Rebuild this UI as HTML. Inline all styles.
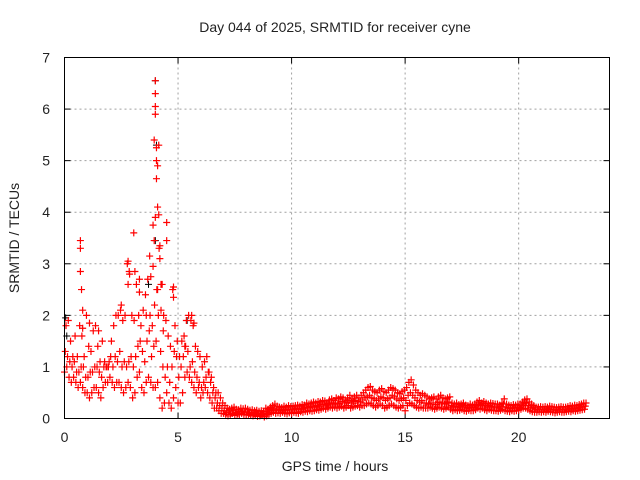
<!DOCTYPE html>
<html><head><meta charset="utf-8"><style>
body{margin:0;background:#fff}
svg{display:block;font-family:"Liberation Sans",sans-serif}
</style></head><body>
<svg id="chart" width="640" height="480">
<text x="335" y="32" text-anchor="middle" font-size="14" fill="#222">Day 044 of 2025, SRMTID for receiver cyne</text>
<text x="335" y="471" text-anchor="middle" font-size="14" fill="#222">GPS time / hours</text>
<text transform="translate(19,238) rotate(-90)" text-anchor="middle" font-size="14" fill="#222">SRMTID / TECUs</text>
<g id="grid"></g>
<g id="ticks"></g>
<g id="marks"></g>
<rect x="64.5" y="57.5" width="545" height="361" fill="none" stroke="#000" stroke-width="1"/>
</svg>
<script>
const xTicks=[0,5,10,15,20];
const yTicks=[0,1,2,3,4,5,6,7];
const tStart=0, tStep=0.1;
const s1=[0.9,1.0,0.8,0.7,0.8,0.7,0.6,0.7,0.6,0.5, 0.5,0.4,0.5,0.6,0.6,0.5,0.4,0.6,0.7,0.7, 0.8,0.7,0.6,0.7,0.7,0.6,0.5,0.6,0.7,0.6, 0.4,0.5,0.8,0.9,0.6,0.5,0.7,0.8,0.7,0.6, 0.6,0.7,0.4,0.2,0.3,0.5,0.3,0.2,0.4,0.6, 0.3,0.3,0.5,0.8,0.9,0.8,0.7,0.6,0.5,0.6, 0.4,0.5,0.6,0.5,0.4,0.3,0.2,0.2,0.15,0.1, 0.1,0.08,0.05,0.08,0.1,0.06,0.08,0.07,0.1,0.08, 0.07,0.08,0.06,0.05,0.07,0.04,0.05,0.06,0.03,0.05, 0.08,0.1,0.12,0.1,0.11,0.1,0.12,0.1,0.09,0.11, 0.1,0.12,0.11,0.1,0.13,0.12,0.14,0.13,0.15,0.14, 0.15,0.17,0.16,0.18,0.2,0.18,0.2,0.22,0.2,0.22, 0.2,0.22,0.24,0.2,0.22,0.25,0.2,0.22,0.24,0.25, 0.22,0.25,0.25,0.28,0.3,0.28,0.25,0.22,0.25,0.28, 0.25,0.2,0.22,0.25,0.28,0.25,0.22,0.2,0.22,0.25, 0.15,0.25,0.3,0.28,0.25,0.22,0.2,0.22,0.2,0.2, 0.2,0.22,0.2,0.18,0.2,0.22,0.2,0.18,0.2,0.22, 0.18,0.15,0.17,0.15,0.16,0.18,0.15,0.14,0.16,0.15, 0.15,0.17,0.2,0.18,0.2,0.17,0.15,0.18,0.16,0.15, 0.15,0.14,0.16,0.18,0.15,0.14,0.13,0.15,0.14,0.15, 0.16,0.18,0.2,0.2,0.18,0.15,0.13,0.12,0.12,0.13, 0.12,0.13,0.12,0.14,0.13,0.12,0.11,0.12,0.13,0.12, 0.12,0.13,0.14,0.13,0.15,0.14,0.15,0.16,0.17,0.18];
const s2=[1.3,1.2,1.1,1.0,1.1,0.9,0.9,1.0,1.0,0.8, 0.8,0.9,0.9,1.0,1.0,0.9,0.8,1.0,1.0,1.0, 1.2,1.0,1.2,1.1,1.3,1.0,1.1,1.0,1.1,1.2, 1.0,1.2,1.4,1.5,1.3,1.1,1.5,1.7,1.2,1.4, 1.5,2.0,1.3,1.0,0.8,1.0,0.7,1.0,1.3,1.2, 0.8,1.0,1.2,1.4,1.3,1.0,1.1,0.9,0.8,0.7, 0.6,0.7,0.8,0.9,0.7,0.5,0.4,0.3,0.25,0.2, 0.15,0.12,0.15,0.1,0.15,0.12,0.1,0.13,0.14,0.12, 0.12,0.1,0.11,0.09,0.12,0.1,0.08,0.1,0.09,0.1, 0.15,0.17,0.2,0.16,0.18,0.15,0.17,0.16,0.18,0.17, 0.17,0.18,0.2,0.19,0.18,0.2,0.22,0.21,0.23,0.24, 0.22,0.25,0.24,0.27,0.28,0.26,0.28,0.3,0.28,0.3, 0.28,0.3,0.33,0.3,0.32,0.35,0.3,0.33,0.35,0.33, 0.32,0.36,0.4,0.42,0.45,0.4,0.38,0.35,0.38,0.42, 0.4,0.35,0.38,0.4,0.45,0.42,0.38,0.35,0.38,0.4, 0.35,0.45,0.5,0.45,0.4,0.35,0.32,0.35,0.3,0.3, 0.28,0.3,0.3,0.27,0.3,0.32,0.3,0.28,0.3,0.32, 0.25,0.22,0.24,0.22,0.23,0.25,0.22,0.2,0.22,0.21, 0.22,0.25,0.28,0.26,0.28,0.25,0.22,0.25,0.23,0.22, 0.22,0.2,0.23,0.28,0.22,0.2,0.19,0.21,0.2,0.22, 0.22,0.25,0.28,0.3,0.25,0.22,0.2,0.18,0.17,0.18, 0.17,0.18,0.17,0.19,0.18,0.17,0.16,0.17,0.18,0.17, 0.17,0.18,0.19,0.18,0.2,0.19,0.21,0.22,0.23,0.24];
const s3=[1.8,1.9,1.5,1.2,1.6,1.2,1.8,1.6,1.2,2.0, 1.4,1.3,1.7,1.8,1.4,1.1,1.5,1.1,1.0,1.1, 1.5,1.8,2.0,2.0,2.1,1.9,2.0,3.0,2.8,2.0, 1.9,2.6,2.0,1.8,2.1,2.4,2.7,2.0,1.8,2.2, 2.5,3.3,2.6,2.0,1.9,1.6,1.4,2.5,1.8,1.5, 1.2,1.5,1.6,1.9,2.0,1.9,1.8,1.4,1.3,1.2, 1.0,1.1,1.2,0.9,0.8,0.6,0.5,0.5,0.4,0.3, 0.25,0.2,0.18,0.2,0.22,0.18,0.17,0.2,0.19,0.2, 0.18,0.16,0.17,0.15,0.16,0.14,0.15,0.13,0.2,0.18, 0.22,0.25,0.28,0.24,0.22,0.21,0.24,0.22,0.25,0.23, 0.24,0.25,0.26,0.24,0.27,0.26,0.3,0.28,0.3,0.32, 0.3,0.33,0.32,0.35,0.34,0.3,0.36,0.38,0.35,0.4, 0.38,0.42,0.4,0.36,0.4,0.45,0.38,0.42,0.45,0.4, 0.45,0.5,0.55,0.6,0.62,0.55,0.52,0.5,0.55,0.58, 0.52,0.5,0.55,0.6,0.58,0.55,0.5,0.48,0.52,0.55, 0.6,0.7,0.75,0.65,0.55,0.5,0.45,0.48,0.45,0.42, 0.38,0.4,0.42,0.38,0.42,0.45,0.4,0.38,0.4,0.42, 0.3,0.28,0.3,0.27,0.28,0.3,0.26,0.25,0.28,0.26, 0.28,0.32,0.35,0.3,0.33,0.3,0.28,0.3,0.29,0.28, 0.28,0.26,0.3,0.38,0.28,0.26,0.25,0.27,0.26,0.28, 0.28,0.32,0.36,0.38,0.32,0.28,0.25,0.22,0.22,0.23, 0.22,0.23,0.22,0.24,0.23,0.22,0.21,0.22,0.23,0.22, 0.22,0.23,0.25,0.24,0.26,0.25,0.27,0.28,0.3,0.3];
const outT=[0.7,0.7,0.7,0.75,0.8,0.8,2.8,2.85,3.05,3.1,2.8,3.3,3.3,3.8,3.75,4.0,4.0,4.0,4.0,3.95,4.05,4.15,4.05,4.1,4.05,4.1,4.0,3.9,4.15,3.95,4.2,4.2,4.25,4.3,4.1,4.25,4.5,4.5,4.8,4.8,3.9,3.6,4.35,5.6,5.7,5.3,1.1,1.5,2.5];
const outV=[3.45,3.3,2.85,2.5,2.1,1.75,3.05,2.85,3.6,2.85,2.6,2.7,2.45,2.75,3.15,6.55,6.3,6.05,5.9,5.4,5.25,5.3,5.0,4.9,4.65,4.1,3.9,3.75,3.95,3.45,3.35,3.1,2.6,2.6,2.5,2.1,3.8,3.45,2.55,2.35,2.95,2.0,1.7,2.0,1.85,1.4,1.85,1.7,2.2];
const blackT=[4.0,4.05,4.0,0.05,0.1,5.4,3.7];
const blackV=[6.55,5.3,3.45,1.95,1.6,1.9,2.6];

const X0=64.5,X1=609.5,Y0=418.5,Y1=57.5;
const xs=t=>X0+t/24*(X1-X0);
const ys=v=>Y0-v/7*(Y0-Y1);
const NS='http://www.w3.org/2000/svg';
const grid=document.getElementById('grid'),ticks=document.getElementById('ticks'),marks=document.getElementById('marks');
function mk(tag,attrs,parent){const e=document.createElementNS(NS,tag);for(const k in attrs)e.setAttribute(k,attrs[k]);parent.appendChild(e);return e;}
xTicks.forEach(t=>{const x=xs(t);
 if(t>0){const g=mk('line',{x1:x,x2:x,y1:Y1,y2:Y0,stroke:'#a0a0a0','stroke-dasharray':'2,3'},grid);
 
 }
 mk('line',{x1:x,x2:x,y1:Y0,y2:Y0-6,stroke:'#000'},ticks);
 mk('line',{x1:x,x2:x,y1:Y1,y2:Y1+6,stroke:'#000'},ticks);
 const l=mk('text',{x:x,y:442,'text-anchor':'middle','font-size':14,fill:'#222'},ticks);l.textContent=t;
 
 
});
yTicks.forEach(v=>{const y=ys(v);
 if(v>0&&v<7){const g=mk('line',{x1:X0,x2:X1,y1:y,y2:y,stroke:'#a0a0a0','stroke-dasharray':'2,3'},grid);
 
 }
 mk('line',{x1:X0,x2:X0+6,y1:y,y2:y,stroke:'#000'},ticks);
 mk('line',{x1:X1,x2:X1-6,y1:y,y2:y,stroke:'#000'},ticks);
 const l=mk('text',{x:50,y:y+5,'text-anchor':'end','font-size':14,fill:'#222'},ticks);l.textContent=v;
 
 
});
function plus(t,v){const x=xs(t),y=ys(v);return `M${x-3.5},${y}h7M${x},${y-3.5}v7`;}
let dB='';blackT.forEach((t,i)=>{dB+=plus(t,blackV[i]);});
let dR='';
[s1,s2,s3].forEach((s,k)=>s.forEach((v,i)=>{dR+=plus(tStart+i*tStep+k*0.033,v);}));
outT.forEach((t,i)=>{dR+=plus(t,outV[i]);});
const pb=mk('path',{d:dB,stroke:'#000',fill:'none','stroke-width':1},marks);


const pr=mk('path',{d:dR,stroke:'#ff0000',fill:'none','stroke-width':1.2},marks);


</script>
</body></html>
